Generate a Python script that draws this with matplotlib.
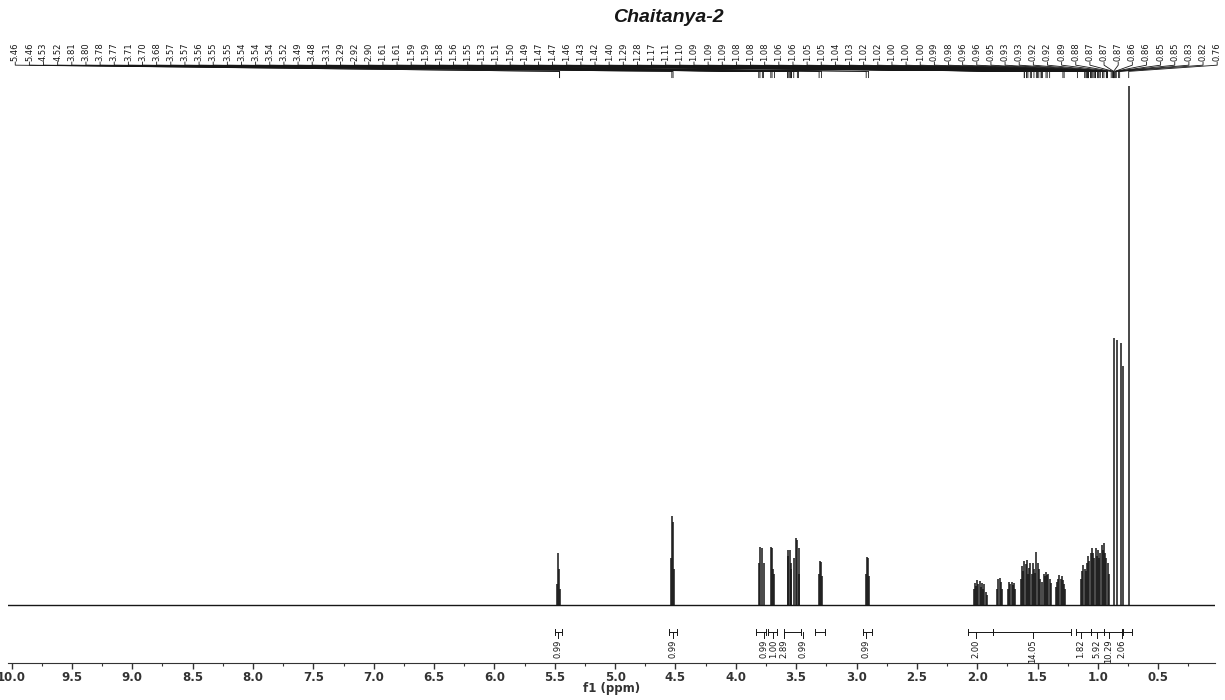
import matplotlib.pyplot as plt
import numpy as np

# 1H NMR peak sticks: chemical shift (ppm) and relative intensity (tallest = 100)
shifts_low = [5.480, 5.472, 5.465, 5.457, 4.533, 4.527, 4.520, 4.514]
heights_low = [4.0, 10.0, 7.0, 3.0, 9.0, 17.1, 16.0, 7.0]

shifts_mid = [3.810, 3.800, 3.780, 3.770, 3.710, 3.700, 3.690, 3.680,
              3.570, 3.565, 3.555, 3.545, 3.540, 3.520, 3.500, 3.490, 3.480, 3.475,
              3.315, 3.305, 3.295, 3.285, 2.925, 2.915, 2.905, 2.895]
heights_mid = [8.0, 11.2, 11.0, 8.0, 11.2, 11.0, 7.0, 6.0,
               9.5, 10.6, 10.5, 8.0, 7.0, 9.0, 12.9, 12.5, 11.0, 6.0,
               6.0, 8.5, 8.2, 5.5, 6.0, 9.2, 9.0, 5.5]

shifts_high = [2.03, 2.02, 2.01, 2.00, 1.99, 1.98, 1.97, 1.96, 1.95, 1.94, 1.93, 1.92,
               1.835, 1.825, 1.815, 1.805, 1.795,
               1.745, 1.735, 1.725, 1.715, 1.705, 1.695, 1.685,
               1.64, 1.63, 1.62, 1.61, 1.60, 1.59, 1.58, 1.57, 1.56, 1.55, 1.54, 1.53,
               1.52, 1.51, 1.50, 1.49, 1.48,
               1.46, 1.45, 1.44, 1.43, 1.42, 1.41, 1.40, 1.39,
               1.35, 1.34, 1.33, 1.32, 1.31, 1.30, 1.29, 1.28, 1.27,
               1.14, 1.13, 1.12, 1.11, 1.10, 1.09, 1.08, 1.07, 1.06, 1.05, 1.04, 1.03,
               1.02, 1.01, 1.00, 0.99, 0.98, 0.97, 0.96, 0.95, 0.94, 0.93, 0.92, 0.91,
               0.870, 0.838, 0.812, 0.795, 0.745]
heights_high = [3.0, 4.2, 3.6, 4.8, 4.0, 4.6, 3.5, 4.2, 3.0, 4.0, 2.5, 2.0,
                3.0, 5.0, 5.2, 4.5, 3.0,
                3.0, 4.4, 4.0, 4.5, 3.8, 4.3, 3.0,
                5.0, 7.5, 6.5, 8.5, 7.8, 8.7, 6.0, 7.2, 8.0, 6.0, 8.0, 7.0,
                6.2, 10.2, 8.0, 7.0, 5.0,
                4.5, 6.0, 5.5, 6.4, 5.8, 6.0, 5.0, 4.2,
                3.5, 4.5, 5.0, 5.8, 5.0, 5.5, 4.8, 4.0, 3.0,
                5.0, 6.5, 7.7, 7.0, 6.5, 8.0, 9.5, 8.5, 10.0, 11.0, 10.0, 9.0,
                11.0, 9.5, 10.5, 9.0, 10.0, 11.5, 10.5, 12.0, 10.0, 9.0, 8.0, 6.0,
                51.5, 51.0, 50.4, 46.0, 100.0]

# peak labels along the top
peak_labels = ['5.46', '5.46', '4.53', '4.52', '3.81', '3.80', '3.78', '3.77',
               '3.71', '3.70', '3.68', '3.57', '3.57', '3.56', '3.55', '3.55',
               '3.54', '3.54', '3.54', '3.52', '3.49', '3.48', '3.31', '3.29',
               '2.92', '2.90', '1.61', '1.61', '1.59', '1.59', '1.58', '1.56',
               '1.55', '1.53', '1.51', '1.50', '1.49', '1.47', '1.47', '1.46',
               '1.43', '1.42', '1.40', '1.29', '1.28', '1.17', '1.11', '1.10',
               '1.09', '1.09', '1.09', '1.08', '1.08', '1.08', '1.06', '1.06',
               '1.05', '1.05', '1.04', '1.03', '1.02', '1.02', '1.00', '1.00',
               '1.00', '0.99', '0.98', '0.96', '0.96', '0.95', '0.93', '0.93',
               '0.92', '0.92', '0.89', '0.88', '0.87', '0.87', '0.87', '0.86',
               '0.86', '0.85', '0.85', '0.83', '0.82', '0.76']

# integration regions (from, to) and values
int_from = [5.50, 4.55, 3.83, 3.73, 3.60, 3.34, 2.95, 2.08, 1.87, 1.18, 1.06, 0.95, 0.79]
int_to = [5.44, 4.49, 3.75, 3.66, 3.46, 3.26, 2.87, 1.87, 1.22, 1.06, 0.95, 0.80, 0.72]
int_values = ['0.99', '0.99', '0.99', '1.00', '2.89', '0.99', '0.99',
              '2.00', '14.05', '1.82', '5.92', '10.29', '2.06']
int_label_at = [5.47, 4.52, 3.77, 3.69, 3.60, 3.44, 2.92, 2.01, 1.54, 1.14, 1.01, 0.91, 0.80]

ink = '#161616'

fig = plt.figure(figsize=(12.25, 7), dpi=100)
ax = fig.add_axes([8 / 1225, 37 / 700, 1207 / 1225, 643 / 700])

shifts = shifts_low + shifts_mid + shifts_high
heights = heights_low + heights_mid + heights_high
ax.vlines(shifts, 0, heights, color=ink, lw=1.1)
ax.axhline(0, color=ink, lw=1.0)

ax.set_xlim(10.03, 0.03)
ax.set_ylim(-11.18, 112.7)

for s in ['left', 'right', 'top']:
    ax.spines[s].set_visible(False)
ax.spines['bottom'].set_color('#333333')
ax.set_yticks([])
ax.set_xticks(np.arange(0.5, 10.01, 0.5))
ax.set_xticks(np.arange(0.25, 10.01, 0.25), minor=True)
ax.set_xticklabels(['%.1f' % t for t in np.arange(0.5, 10.01, 0.5)],
                   fontsize=8.5, fontweight='bold', color='#333333')
ax.tick_params(axis='x', which='major', length=4, width=1, pad=1.5, color='#333333')
ax.tick_params(axis='x', which='minor', length=2.5, width=0.8, color='#333333')
ax.set_xlabel('f1 (ppm)', fontsize=8.5, fontweight='bold', color='#333333', labelpad=-1)

# peak labels with leader lines
lab_x = np.linspace(9.97, 0.012, len(peak_labels))
for lx, lab in zip(lab_x, peak_labels):
    pk = float(lab)
    if lab == '0.76':
        pk = 0.745
    ax.plot([lx, lx, pk, pk], [104.6, 104.0, 102.8, 101.6], color=ink, lw=0.6, clip_on=False)
    ax.text(lx, 104.8, lab, rotation=90, ha='center', va='bottom', fontsize=6, color=ink)

# integrals
y_br = -5.2
for a, b, v, lp in zip(int_from, int_to, int_values, int_label_at):
    ax.plot([a, b], [y_br, y_br], color=ink, lw=0.7)
    ax.plot([a, a], [y_br - 0.5, y_br + 0.5], color=ink, lw=0.7)
    ax.plot([b, b], [y_br - 0.5, y_br + 0.5], color=ink, lw=0.7)
    ax.plot([lp, lp], [y_br, y_br - 1.2], color=ink, lw=0.7)
    ax.text(lp, y_br - 1.4, v, rotation=90, ha='center', va='top', fontsize=6, color=ink)

fig.text(668 / 1225, 1 - 17 / 700, 'Chaitanya-2', fontsize=14, fontweight='bold',
         fontstyle='italic', family='Liberation Sans', ha='center', va='center', color=ink)

fig.savefig('out.png', dpi=100)
